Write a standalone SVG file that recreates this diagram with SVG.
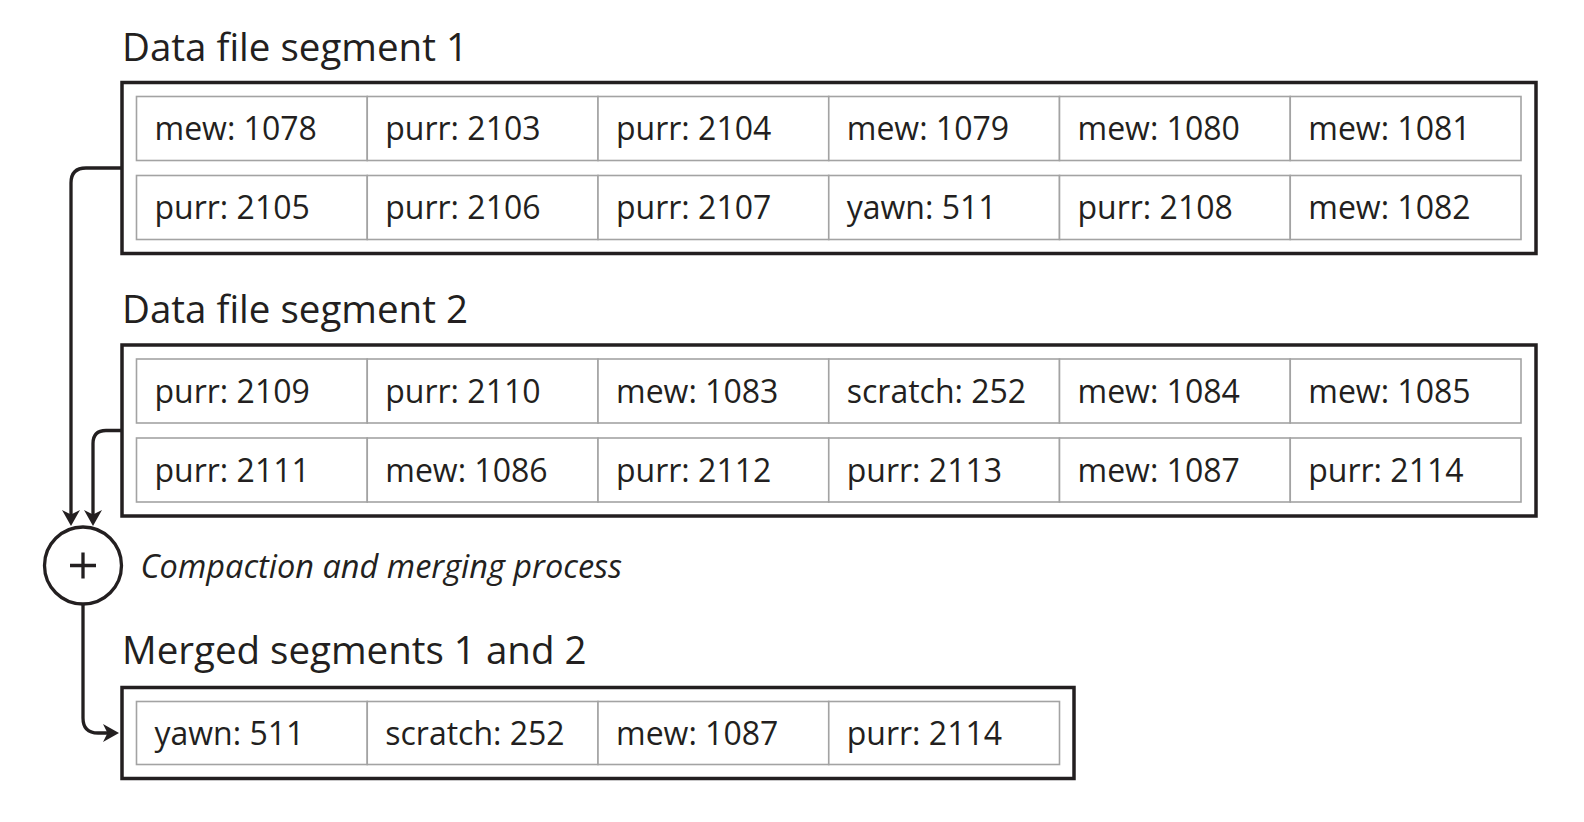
<svg xmlns="http://www.w3.org/2000/svg" width="1584" height="822" viewBox="0 0 1584 822">
<style>
.bg{fill:#fff}
.outer{fill:none;stroke:#231f20;stroke-width:3.5}
.cell{fill:#fff;stroke:#a3a3a3;stroke-width:1.6}
.t{font-family:"Open Sans","Liberation Sans",sans-serif;font-size:32px;fill:#231f20}
.title{font-family:"Open Sans","Liberation Sans",sans-serif;font-size:38.5px;fill:#231f20}
.it{font-family:"Open Sans","Liberation Sans",sans-serif;font-size:32.5px;font-style:italic;fill:#231f20}
.conn{fill:none;stroke:#231f20;stroke-width:3.3}
</style>
<defs>
<marker id="arr" viewBox="0 0 16 18" refX="11" refY="9" markerWidth="16" markerHeight="18" markerUnits="userSpaceOnUse" orient="auto">
<path d="M0,0 L16,9 L0,18 L4.5,9 Z" fill="#231f20"/>
</marker>
</defs>
<rect class="bg" x="0" y="0" width="1584" height="822"/>

<g id="segment1">
<text class="title" x="122" y="60.5">Data file segment 1</text>
<rect class="outer" x="122" y="82.5" width="1414" height="171"/>
<g id="seg1-row1">
<rect class="cell" x="136.5" y="96.5" width="230.75" height="64"/>
<rect class="cell" x="367.25" y="96.5" width="230.75" height="64"/>
<rect class="cell" x="598" y="96.5" width="230.75" height="64"/>
<rect class="cell" x="828.75" y="96.5" width="230.75" height="64"/>
<rect class="cell" x="1059.5" y="96.5" width="230.75" height="64"/>
<rect class="cell" x="1290.25" y="96.5" width="230.75" height="64"/>
<text class="t" x="154.5" y="140">mew: 1078</text>
<text class="t" x="385.25" y="140">purr: 2103</text>
<text class="t" x="616" y="140">purr: 2104</text>
<text class="t" x="846.75" y="140">mew: 1079</text>
<text class="t" x="1077.5" y="140">mew: 1080</text>
<text class="t" x="1308.25" y="140">mew: 1081</text>
</g>
<g id="seg1-row2">
<rect class="cell" x="136.5" y="175.5" width="230.75" height="64"/>
<rect class="cell" x="367.25" y="175.5" width="230.75" height="64"/>
<rect class="cell" x="598" y="175.5" width="230.75" height="64"/>
<rect class="cell" x="828.75" y="175.5" width="230.75" height="64"/>
<rect class="cell" x="1059.5" y="175.5" width="230.75" height="64"/>
<rect class="cell" x="1290.25" y="175.5" width="230.75" height="64"/>
<text class="t" x="154.5" y="219">purr: 2105</text>
<text class="t" x="385.25" y="219">purr: 2106</text>
<text class="t" x="616" y="219">purr: 2107</text>
<text class="t" x="846.75" y="219">yawn: 511</text>
<text class="t" x="1077.5" y="219">purr: 2108</text>
<text class="t" x="1308.25" y="219">mew: 1082</text>
</g>
</g>

<g id="segment2">
<text class="title" x="122" y="322.5">Data file segment 2</text>
<rect class="outer" x="122" y="345" width="1414" height="171"/>
<g id="seg2-row1">
<rect class="cell" x="136.5" y="359" width="230.75" height="64"/>
<rect class="cell" x="367.25" y="359" width="230.75" height="64"/>
<rect class="cell" x="598" y="359" width="230.75" height="64"/>
<rect class="cell" x="828.75" y="359" width="230.75" height="64"/>
<rect class="cell" x="1059.5" y="359" width="230.75" height="64"/>
<rect class="cell" x="1290.25" y="359" width="230.75" height="64"/>
<text class="t" x="154.5" y="402.5">purr: 2109</text>
<text class="t" x="385.25" y="402.5">purr: 2110</text>
<text class="t" x="616" y="402.5">mew: 1083</text>
<text class="t" x="846.75" y="402.5">scratch: 252</text>
<text class="t" x="1077.5" y="402.5">mew: 1084</text>
<text class="t" x="1308.25" y="402.5">mew: 1085</text>
</g>
<g id="seg2-row2">
<rect class="cell" x="136.5" y="438" width="230.75" height="64"/>
<rect class="cell" x="367.25" y="438" width="230.75" height="64"/>
<rect class="cell" x="598" y="438" width="230.75" height="64"/>
<rect class="cell" x="828.75" y="438" width="230.75" height="64"/>
<rect class="cell" x="1059.5" y="438" width="230.75" height="64"/>
<rect class="cell" x="1290.25" y="438" width="230.75" height="64"/>
<text class="t" x="154.5" y="481.5">purr: 2111</text>
<text class="t" x="385.25" y="481.5">mew: 1086</text>
<text class="t" x="616" y="481.5">purr: 2112</text>
<text class="t" x="846.75" y="481.5">purr: 2113</text>
<text class="t" x="1077.5" y="481.5">mew: 1087</text>
<text class="t" x="1308.25" y="481.5">purr: 2114</text>
</g>
</g>

<g id="merge-process">
<circle cx="83" cy="565.5" r="38.5" fill="#fff" stroke="#231f20" stroke-width="3.3"/>
<path d="M83,552.5 V578.5 M70,565.5 H96" stroke="#231f20" stroke-width="3.3" fill="none"/>
<text class="it" x="140.5" y="578">Compaction and merging process</text>
</g>

<g id="merged">
<text class="title" x="122" y="664">Merged segments 1 and 2</text>
<rect class="outer" x="122" y="687.5" width="952" height="91"/>
<rect class="cell" x="136.5" y="701.5" width="230.75" height="63"/>
<rect class="cell" x="367.25" y="701.5" width="230.75" height="63"/>
<rect class="cell" x="598" y="701.5" width="230.75" height="63"/>
<rect class="cell" x="828.75" y="701.5" width="230.75" height="63"/>
<text class="t" x="154.5" y="745">yawn: 511</text>
<text class="t" x="385.25" y="745">scratch: 252</text>
<text class="t" x="616" y="745">mew: 1087</text>
<text class="t" x="846.75" y="745">purr: 2114</text>
</g>

<g id="connectors">
<path class="conn" d="M122,168 H86 Q71,168 71,183 V521" marker-end="url(#arr)"/>
<path class="conn" d="M122,430.5 H106 Q93,430.5 93,443.5 V521" marker-end="url(#arr)"/>
<path class="conn" d="M83,604 V718 Q83,733 98,733 H114" marker-end="url(#arr)"/>
</g>
</svg>
